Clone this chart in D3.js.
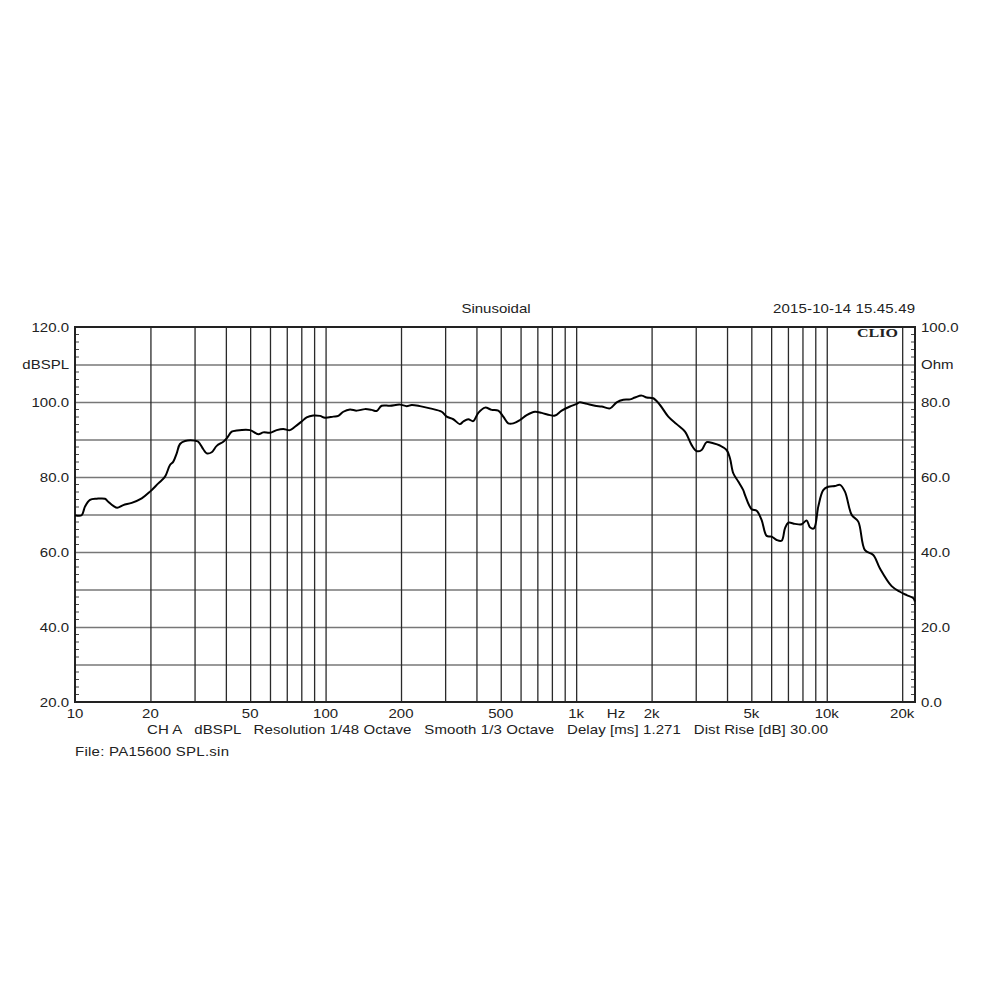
<!DOCTYPE html>
<html>
<head>
<meta charset="utf-8">
<script src="https://cdn.jsdelivr.net/npm/d3@7"></script>
<style>
  html, body { margin: 0; padding: 0; background: #ffffff; }
  svg { display: block; }
  text { font-family: "Liberation Sans", Arial, sans-serif; fill: #222; white-space: pre; }
</style>
</head>
<body>
<div id="chart"></div>
<script>
// ---- Data ----
const freqHz = [10.0, 10.63, 10.96, 11.48, 12.21, 13.17, 13.58, 14.22, 14.75, 15.58, 16.84, 18.46, 19.93,
  21.50, 22.87, 23.94, 24.68, 25.46, 26.24, 27.47, 30.12, 31.05, 32.51, 33.54, 35.12, 36.77, 39.07,
  40.31, 42.21, 44.19, 49.93, 53.88, 56.42, 60.00, 63.81, 67.79, 72.08, 75.47, 80.26, 84.04, 89.30,
  94.99, 99.45, 107.3, 112.4, 117.7, 125.1, 133.1, 143.6, 152.7, 159.9, 167.4, 180.7, 198.1, 210.7,
  220.6, 238.1, 261.0, 290.7, 304.3, 323.3, 343.8, 354.4, 371.0, 388.5, 406.8, 432.6, 460.1, 488.8,
  511.8, 535.8, 561.0, 596.7, 634.7, 684.8, 728.4, 786.1, 823.2, 875.5, 944.7, 1004.6, 1030, 1090,
  1188.5, 1264.1, 1364.3, 1450.9, 1541.5, 1639.6, 1716.6, 1825.9, 1911.6, 2031.3, 2160.3, 2331.5,
  2517.9, 2718.4, 2890.4, 3025.8, 3168.2, 3316.8, 3524.5, 3748.3, 3985.2, 4109.3, 4236.6, 4435.6,
  4643.4, 4716.7, 5015.1, 5251.8, 5498.4, 5757.1, 6028.4, 6311.5, 6607.0, 6810.5, 7020.7, 7466.6,
  7942.3, 8314.5, 8571.3, 8891.4, 9250.5, 9683.6, 10139, 10784, 11290, 11820, 12575, 13359, 14205,
  15333, 16307, 18155, 19596, 20837, 22135, 22486];
const splDb = [69.8, 69.8, 72.1, 73.9, 74.2, 74.2, 73.4, 72.3, 71.8, 72.5, 73.1, 74.3, 76.1,
  78.3, 80.1, 83.2, 84.1, 86.3, 88.8, 89.6, 89.7, 89.4, 87.4, 86.3, 86.6, 88.3, 89.4,
  90.3, 92.1, 92.4, 92.5, 91.4, 91.9, 91.8, 92.5, 92.8, 92.5, 93.4, 94.8, 95.9, 96.4,
  96.3, 95.8, 96.1, 96.3, 97.4, 98.0, 97.7, 98.1, 97.9, 97.6, 99.0, 99.0, 99.3, 98.9,
  99.2, 98.9, 98.3, 97.4, 96.1, 95.4, 94.1, 94.8, 95.4, 94.9, 97.1, 98.5, 97.9, 97.7,
  96.1, 94.3, 94.3, 95.2, 96.5, 97.4, 97.1, 96.5, 96.4, 97.7, 98.8, 99.5, 99.9, 99.6,
  99.0, 98.8, 98.3, 99.9, 100.6, 100.7, 101.2, 101.7, 101.2, 101.0, 99.2, 96.1,
  94.1, 92.1, 88.5, 86.9, 87.2, 89.3, 89.0, 88.4, 87.2, 85.0, 81.0, 78.8,
  76.5, 75.2, 71.4, 71.0, 68.5, 64.3, 64.1, 63.2, 63.0, 66.3, 67.8, 67.5,
  67.4, 68.4, 66.6, 66.3, 72.1, 76.5, 77.4, 77.6, 77.9, 76.1, 69.9, 68.1, 60.5,
  59.2, 55.6, 50.9, 49.4, 48.5, 47.7, 46.8];

const xTickValues = [10, 20, 50, 100, 200, 500, 1000, 2000, 5000, 10000, 20000];
const xTickLabels = ["10", "20", "50", "100", "200", "500", "1k", "2k", "5k", "10k", "20k"];
const xGridValues = [20, 30, 40, 50, 60, 70, 80, 90, 100, 200, 300, 400, 500, 600, 700, 800, 900,
  1000, 2000, 3000, 4000, 5000, 6000, 7000, 8000, 9000, 10000, 20000];
const yGridValues = [30, 40, 50, 60, 70, 80, 90, 100, 110];
const yLeftLabels = ["120.0", "dBSPL", "100.0", "", "80.0", "", "60.0", "", "40.0", "", "20.0"];
const yRightLabels = ["100.0", "Ohm", "80.0", "", "60.0", "", "40.0", "", "20.0", "", "0.0"];
const yLabelValues = [120, 110, 100, 90, 80, 70, 60, 50, 40, 30, 20];

const titleText = "Sinusoidal";
const dateText = "2015-10-14 15.45.49";
const brandText = "CLIO";
const infoText = "CH A   dBSPL   Resolution 1/48 Octave   Smooth 1/3 Octave   Delay [ms] 1.271   Dist Rise [dB] 30.00";
const fileText = "File: PA15600 SPL.sin";

// ---- Layout ----
const W = 1000, H = 1000;
const L = 75, R = 915, T = 327, B = 702;
const SX = 1.2; // horizontal text stretch seen in the reference
const FS = 12.5;

const svg = d3.select("#chart").append("svg").attr("width", W).attr("height", H);

const x = d3.scaleLog().domain([10, 22500]).range([L, R]);
const y = d3.scaleLinear().domain([20, 120]).range([B, T]);

function label(txt, px, py, anchor, opts = {}) {
  const g = svg.append("g").attr("transform", `translate(${px},${py + 1.5}) scale(${opts.sx || SX},1)`);
  const t = g.append("text")
    .attr("x", 0).attr("y", 0)
    .attr("text-anchor", anchor)
    .attr("dominant-baseline", "middle")
    .style("font-size", (opts.size || FS) + "px")
    .text(txt);
  if (opts.family) t.style("font-family", opts.family);
  if (opts.weight) t.style("font-weight", opts.weight);
  if (opts.len) t.attr("textLength", opts.len).attr("lengthAdjust", opts.adjust || "spacing");
  return t;
}

// Horizontal grid via axis
svg.append("g")
  .attr("transform", `translate(${L},0)`)
  .call(d3.axisLeft(y).tickValues(yGridValues).tickSize(-(R - L)).tickFormat(""))
  .call(g => g.select(".domain").remove())
  .call(g => g.selectAll("line").attr("stroke", "#777").attr("stroke-width", 1.3));

// Vertical grid via axis
svg.append("g")
  .attr("transform", `translate(0,${B})`)
  .call(d3.axisBottom(x).tickValues(xGridValues).tickSize(-(B - T)).tickFormat(""))
  .call(g => g.select(".domain").remove())
  .call(g => g.selectAll("line").attr("stroke", "#2a2a2a").attr("stroke-width", 1.3));

// Minor ticks on left and right borders (every 2 dB)
const minorTicks = d3.range(20, 121, 2).filter(v => v % 10 !== 0);
svg.append("g").selectAll("line").data(minorTicks).join("line")
  .attr("x1", L).attr("x2", L + 4)
  .attr("y1", d => y(d)).attr("y2", d => y(d))
  .attr("stroke", "#444").attr("stroke-width", 1);
svg.append("g").selectAll("line").data(minorTicks).join("line")
  .attr("x1", R - 4).attr("x2", R)
  .attr("y1", d => y(d)).attr("y2", d => y(d))
  .attr("stroke", "#444").attr("stroke-width", 1);

// Frame
svg.append("rect")
  .attr("x", L).attr("y", T).attr("width", R - L).attr("height", B - T)
  .attr("fill", "none").attr("stroke", "#222").attr("stroke-width", 2);

// Curve
const data = freqHz.map((f, i) => ({ f, v: splDb[i] }));
const lineGen = d3.line()
  .x(d => x(d.f))
  .y(d => y(d.v))
  .curve(d3.curveCatmullRom.alpha(0.5));
svg.append("path")
  .datum(data)
  .attr("fill", "none")
  .attr("stroke", "#000")
  .attr("stroke-width", 2)
  .attr("stroke-linejoin", "round")
  .attr("d", lineGen);

// Axis labels
yLabelValues.forEach((v, i) => {
  if (yLeftLabels[i]) label(yLeftLabels[i], 69, y(v), "end");
  if (yRightLabels[i]) label(yRightLabels[i], 921, y(v), "start");
});

// X tick labels
xTickValues.forEach((v, i) => label(xTickLabels[i], x(v), 713, "middle"));
label("Hz", 616, 713, "middle");

// Titles
label(titleText, 496, 308.5, "middle");
label(dateText, 915, 308.5, "end", { len: 142 / SX });
label(brandText, 898, 333, "end", {
  family: "'Liberation Serif', 'DejaVu Serif', serif", weight: "900", size: 12.5, len: 41 / SX, adjust: "spacingAndGlyphs"
});

// Info lines
label(infoText, 147, 729.5, "start", { len: 681 / SX });
label(fileText, 75, 751, "start", { len: 154 / SX });
</script>
</body>
</html>
